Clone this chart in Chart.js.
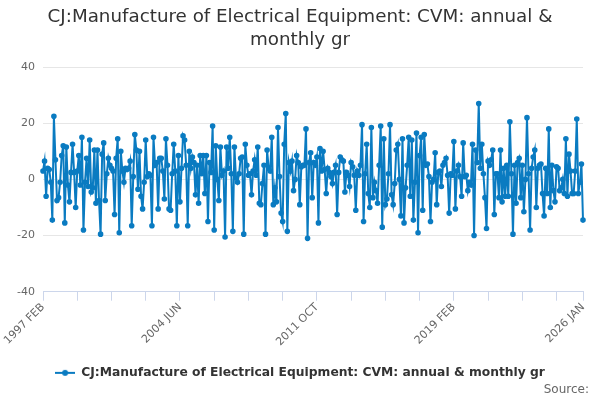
<!DOCTYPE html>
<html>
<head>
<meta charset="utf-8">
<title>CJ:Manufacture of Electrical Equipment: CVM: annual &amp; monthly gr</title>
<script src="https://cdn.jsdelivr.net/npm/chart.js"></script>
<style>
  html, body { margin: 0; padding: 0; background: #ffffff; }
</style>
</head>
<body>
<canvas id="myChart" width="600" height="400"></canvas>
<script>
// Series start month and monthly values (% growth)
const startYear = 1997;
const startMonth = 1; // FEB
const monthNames = ['JAN', 'FEB', 'MAR', 'APR', 'MAY', 'JUN', 'JUL', 'AUG', 'SEP', 'OCT', 'NOV', 'DEC'];

const values = [
  3, 6.5, -6, 4, 3.5, -1, -14.5, 22.5, 7, -7.5,
  -6.5, -1, 8.5, 12, -15.5, 11.5, -2, -8, 2.5, 12.5,
  2.5, -10, 3, 8.5, -2, 15, -18, -1, 7.5, -2.5,
  14, -4.5, -3, 10.5, -8.5, 10.5, -7.5, -19.5, 9, 13,
  -7.5, 2, 7.5, 5, 4, 3, -12.5, 7.5, 14.5, -19,
  10, 3, -1, 4, 3.5, 4, 6.5, -16.5, 1, 16,
  10.5, -3.5,
  10, -6, -10.5, -1, 14, 1, 2, 1.5, -16.5, 15,
  5, 6, -10.5, 7.5, 7.5, 3, -7, 14.5, 5, -10.5,
  -11, 2, 12.5, 3, -16.5, 8.5, -8, 4, 15.5, 14,
  5, -16.5, 10, 4, 8, 6,
  -5.5, 5, -8.5, 8.5, 2, 8.5, -5, 8.5, -15, 6,
  2.5, 19, -18, 12, 0, -7.5, 11.5, 1.5, 3, -20.5,
  11.5, 4, 15, 2, -18.5, 11.5, 0.5, -1, 2, 7.5,
  8, -19.5, 12.5, 5, 1.5, 2, -5.5, 3, 7, 1.5,
  11.5, -8.5, -9, -1.5, 5, -19.5, 10.5, 4, 3,
  15, -9, -3, -8, 18.5, 1, -12, -15, 12.5, 23.5,
  -18.5, 6, 3, 6.5, -4, 0, 8.5, 6, -9, 4.5,
  5, 5, 18, -21, 6, 9.5, -6.5, 6, 5, 8,
  -15.5, 11, 3, 10, 3.5, -5, 4, 2.5, 1, -1.5,
  2.5, 5, -12.5, 2.5, 8, 7, 6.5, -4.5, 2.5, 1.5,
  -2.5, 6, 4.5, 1.5, -11, 3, 1.5, 5, 19.5, -15,
  2, 12.5, -5, -10, 18.5, -6.5, -1, -4, -8.5, 5,
  19, -17, 14.5, -9, -7, 2, 19.5, -5.5, -9, -1.5,
  10.5, 12.5, 0, -13, 14.5, -15.5, -3, 5, 15, -6,
  14, -14.5, -1, 16.5, -19, 8.5, 15, -11, 16,
  5, 5.5, 1, -15, -1, 0, 9.5, -9, 2.5, 3,
  -2.5, 5, 6, 7.5, 1.5, -12, 2, 1.5, 13.5, -10.5,
  3, 5, 1, -6, 13, 1, 1.5, -4, -1, -2,
  12.5, -20, 10.5, 6, 27, 4, 12.5, 2, -6.5, -17.5,
  6.5, 5, 7, 10.5, -12.5, 2, 2, -6.5, 10.5,
  -8, 4, -6, 5, -6, 20.5, 2, -19.5, 5, -8.5,
  6, 7.5, -6.5, 5, -11.5, 0, 22, 2, -18, 4,
  8, 10.5, -10, 4, 5, 5.5, -5, -13, 4, -5,
  18, -10, 5, -4, -8, 4.5, 4, -4, -3, 0,
  -5, 14.5, -6, 9, 3, -5, -5, 3, 21.5, -5,
  -1, 5.5, -14.5
];

// Labels shown under the x axis
const tickLabels = ['1997 FEB', '2004 JUN', '2011 OCT', '2019 FEB', '2026 JAN'];
const yTicks = [-40, -20, 0, 20, 40];

const seriesName = 'CJ:Manufacture of Electrical Equipment: CVM: annual & monthly gr';
const sourceText = 'Source:';

// Month categories, one per value
const categories = values.map((v, i) => {
  const m = startMonth + i;
  return (startYear + Math.floor(m / 12)) + ' ' + monthNames[m % 12];
});

const lineColor = '#0a7bc1';
const n = values.length;

// Legend marker: line with a dot
const marker = document.createElement('canvas');
marker.width = 20;
marker.height = 10;
const mctx = marker.getContext('2d');
mctx.strokeStyle = lineColor;
mctx.lineWidth = 2;
mctx.beginPath();
mctx.moveTo(0, 5);
mctx.lineTo(20, 5);
mctx.stroke();
mctx.fillStyle = lineColor;
mctx.beginPath();
mctx.arc(10, 5, 3, 0, Math.PI * 2);
mctx.fill();

function isTickMark(i) {
  return i % 22 === 0 || i === n - 1;
}

// "Source:" credit in the bottom right corner
const creditPlugin = {
  id: 'credit',
  afterDraw(chart) {
    const ctx = chart.ctx;
    ctx.save();
    ctx.font = '12px "DejaVu Sans"';
    ctx.fillStyle = '#666666';
    ctx.textAlign = 'right';
    ctx.textBaseline = 'middle';
    ctx.fillText(sourceText, chart.width - 11, chart.height - 10);
    ctx.restore();
  }
};

const config = {
  type: 'line',
  data: {
    labels: categories,
    datasets: [{
      label: seriesName,
      data: values,
      borderColor: lineColor,
      backgroundColor: lineColor,
      borderWidth: 2,
      pointRadius: 1.8,
      pointHoverRadius: 3,
      tension: 0
    }]
  },
  options: {
    responsive: false,
    animation: false,
    devicePixelRatio: 1,
    layout: { padding: { left: 0, right: 0, top: 0, bottom: 11 } },
    plugins: {
      title: {
        display: true,
        text: ['CJ:Manufacture of Electrical Equipment: CVM: annual &', 'monthly gr'],
        color: '#333333',
        font: { family: 'DejaVu Sans', size: 18.3, weight: 'normal', lineHeight: 1.26 },
        padding: { top: 6, bottom: 15 }
      },
      legend: {
        position: 'bottom',
        labels: {
          color: '#333333',
          font: { family: 'DejaVu Sans', size: 12.3, weight: 'bold' },
          usePointStyle: true,
          pointStyle: marker,
          pointStyleWidth: 20,
          padding: 4
        }
      },
      tooltip: { enabled: false }
    },
    scales: {
      x: {
        type: 'category',
        offset: false,
        grid: {
          drawOnChartArea: false,
          drawTicks: true,
          tickLength: 9,
          color: ctx => isTickMark(ctx.index) ? '#ccd6eb' : 'rgba(0,0,0,0)'
        },
        border: { display: true, color: '#ccd6eb', width: 1 },
        ticks: {
          autoSkip: false,
          minRotation: 45,
          maxRotation: 45,
          color: '#666666',
          font: { family: 'DejaVu Sans', size: 11 },
          padding: 0,
          callback: function (value, index) {
            const lab = categories[index];
            return tickLabels.includes(lab) ? lab : '';
          }
        },
        afterFit: scale => { scale.height = 71; }
      },
      y: {
        min: -40,
        max: 40,
        afterBuildTicks: scale => { scale.ticks = yTicks.map(v => ({ value: v })); },
        grid: { color: '#e6e6e6', drawTicks: false },
        border: { display: false },
        ticks: {
          color: '#666666',
          font: { family: 'DejaVu Sans', size: 11 },
          padding: 8
        },
        afterFit: scale => { scale.width = 43; }
      },
      // empty right-hand margin so the legend stays centred on the canvas
      yRight: {
        position: 'right',
        min: -40,
        max: 40,
        grid: { display: false, drawTicks: false },
        border: { display: false },
        ticks: { display: false },
        afterFit: scale => { scale.width = 17; }
      }
    }
  },
  plugins: [creditPlugin]
};

const myChart = new Chart(document.getElementById('myChart'), config);
</script>
</body>
</html>
